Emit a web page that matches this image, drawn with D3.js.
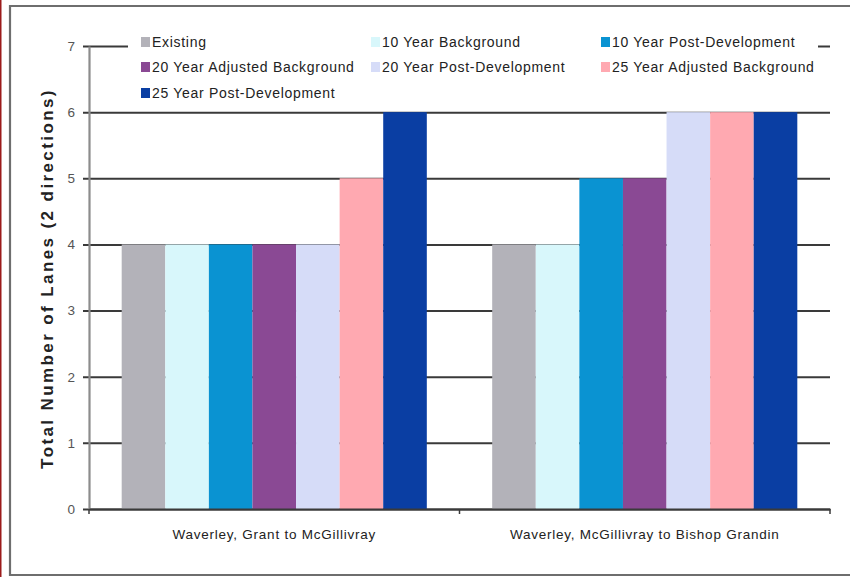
<!DOCTYPE html>
<html>
<head>
<meta charset="utf-8">
<script src="https://cdn.jsdelivr.net/npm/d3@7/dist/d3.min.js"></script>
<style>
  html, body { margin: 0; padding: 0; background: #ffffff; }
  svg { display: block; }
</style>
</head>
<body>
<svg id="chart" width="850" height="577"></svg>
<script>
// Road segments along Waverley
const categories = ["Waverley, Grant to McGillivray", "Waverley, McGillivray to Bishop Grandin"];

// Planning scenarios, in drawing order
const scenarios = [
  "Existing",
  "10 Year Background",
  "10 Year Post-Development",
  "20 Year Adjusted Background",
  "20 Year Post-Development",
  "25 Year Adjusted Background",
  "25 Year Post-Development"
];

// Total lanes (both directions) per scenario, one array per segment
const grantToMcGillivray = [4, 4, 4, 4, 4, 5, 6];
const mcGillivrayToBishopGrandin = [4, 4, 5, 5, 6, 6, 6];

const scenarioColors = ["#b3b2b9", "#d8f7fb", "#0a93d2", "#8a4994", "#d6dcf8", "#ffa9b1", "#0a3ea3"];

const yTicks = [0, 1, 2, 3, 4, 5, 6, 7];
const yTitle = "Total Number of Lanes (2 directions)";

const FONT = "Liberation Sans, Arial, sans-serif";

const values = [grantToMcGillivray, mcGillivrayToBishopGrandin];
const rows = categories.map((c, i) => ({
  category: c,
  bars: scenarios.map((s, j) => ({ scenario: s, value: values[i][j] }))
}));

const svg = d3.select("#chart");
const W = 850, H = 577;

// outer frame
svg.append("rect").attr("x", 0).attr("y", 0).attr("width", W).attr("height", H).attr("fill", "#ffffff");
svg.append("line").attr("x1", 0.75).attr("x2", 0.75).attr("y1", 0).attr("y2", H)
  .attr("stroke", "#9b1b1b").attr("stroke-width", 1.5);
svg.append("path")
  .attr("d", `M${W},6 H10 V575 H${W}`)
  .attr("fill", "none").attr("stroke", "#6e6e6e").attr("stroke-width", 2.2);

const plot = { left: 89, right: 830, top: 46, bottom: 509 };

const x0 = d3.scaleBand().domain(categories).range([plot.left, plot.right]).padding(0);
const x1 = d3.scaleBand().domain(scenarios).range([0, x0.bandwidth()])
  .paddingInner(0).paddingOuter(0.75);
const y = d3.scaleLinear().domain([0, 7]).range([plot.bottom, plot.top]);
const color = d3.scaleOrdinal().domain(scenarios).range(scenarioColors);

// horizontal gridlines with outward tick stubs
const grid = svg.append("g")
  .attr("transform", `translate(${plot.left},0)`)
  .call(d3.axisLeft(y).tickValues(yTicks).tickSize(-(plot.right - plot.left)).tickFormat(""));
grid.select(".domain").remove();
grid.selectAll(".tick line")
  .attr("x1", -6)
  .attr("stroke", "#3a3a3a").attr("stroke-width", 2);

// bars
const groups = svg.append("g").selectAll("g")
  .data(rows).join("g")
  .attr("transform", d => `translate(${x0(d.category)},0)`);
groups.selectAll("rect")
  .data(d => d.bars).join("rect")
  .attr("x", d => x1(d.scenario))
  .attr("width", x1.bandwidth())
  .attr("y", d => y(d.value))
  .attr("height", d => y(0) - y(d.value))
  .attr("fill", d => color(d.scenario));

// y axis
const yAxis = svg.append("g")
  .attr("transform", `translate(${plot.left},0)`)
  .call(d3.axisLeft(y).tickValues(yTicks).tickSize(0).tickPadding(14).tickFormat(d3.format("d")));
yAxis.select(".domain").attr("stroke", "#8c8c8c").attr("stroke-width", 2.2);
yAxis.selectAll(".tick text")
  .attr("font-size", 13.5).attr("fill", "#555")
  .attr("font-family", FONT);

// x axis
const xAxis = svg.append("g")
  .attr("transform", `translate(0,${plot.bottom})`)
  .call(d3.axisBottom(x0).tickSize(0).tickPadding(20));
xAxis.select(".domain").attr("stroke", "#3a3a3a").attr("stroke-width", 2);
xAxis.selectAll(".tick text")
  .attr("font-size", 13.5).attr("fill", "#222")
  .attr("letter-spacing", 0.75)
  .attr("font-family", FONT);
// category separators
xAxis.selectAll(".sep")
  .data([plot.left, x0(categories[1]), plot.right]).join("line")
  .attr("x1", d => d).attr("x2", d => d)
  .attr("y1", 0).attr("y2", 5)
  .attr("stroke", "#3a3a3a").attr("stroke-width", 1.5);

// y axis title
svg.append("text")
  .attr("transform", `translate(53,${(plot.top + plot.bottom) / 2 + 1}) rotate(-90)`)
  .attr("text-anchor", "middle")
  .attr("font-family", FONT)
  .attr("font-size", 17).attr("font-weight", "bold").attr("fill", "#222")
  .attr("letter-spacing", 2.4)
  .text(yTitle);

// legend
const legend = svg.append("g");
legend.append("rect")
  .attr("x", 128).attr("y", 30).attr("width", 690).attr("height", 76)
  .attr("fill", "#ffffff");
const colX = [141, 371, 601];
const rowY = [42, 67, 93];
const items = legend.selectAll("g.item")
  .data(scenarios).join("g")
  .attr("class", "item")
  .attr("transform", (d, i) => `translate(${colX[i % 3]},${rowY[Math.floor(i / 3)]})`);
items.append("rect")
  .attr("x", 0).attr("y", -5).attr("width", 9).attr("height", 10)
  .attr("fill", d => color(d));
items.append("text")
  .attr("x", 11).attr("y", 0).attr("dy", "0.35em")
  .attr("font-family", FONT)
  .attr("font-size", 14).attr("fill", "#222")
  .attr("letter-spacing", 0.7)
  .text(d => d);
</script>
</body>
</html>
